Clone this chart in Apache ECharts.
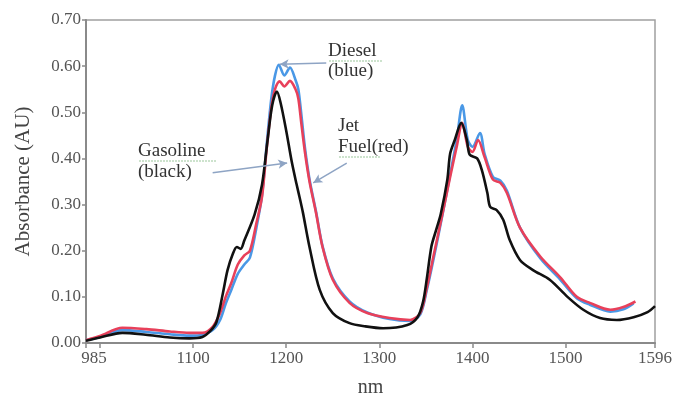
<!DOCTYPE html>
<html>
<head>
<meta charset="utf-8">
<script src="https://cdn.jsdelivr.net/npm/echarts@6/dist/echarts.min.js"></script>
<style>
  html, body { margin: 0; padding: 0; background: #fff; }
  #main { width: 678px; height: 406px; }
</style>
</head>
<body>
<div id="main"></div>
<script>
// gasoline (black)
var gasolineNm = [985, 1000, 1024, 1049, 1075, 1096, 1110, 1118, 1125, 1132, 1137, 1143, 1147, 1151, 1155, 1166, 1174, 1180, 1185, 1190, 1194, 1200, 1206, 1211, 1215, 1218, 1225, 1236, 1250, 1268, 1285, 1304, 1330, 1341, 1347, 1351, 1356, 1361, 1366, 1373, 1376, 1381, 1388, 1394, 1397, 1405, 1410, 1416, 1419, 1426, 1433, 1440, 1451, 1465, 1483, 1502, 1519, 1537, 1555, 1573, 1588, 1596];
var gasolineAbs = [0.005, 0.012, 0.022, 0.018, 0.012, 0.010, 0.013, 0.025, 0.045, 0.108, 0.158, 0.195, 0.208, 0.204, 0.222, 0.278, 0.343, 0.44, 0.516, 0.545, 0.52, 0.46, 0.392, 0.345, 0.31, 0.282, 0.208, 0.115, 0.065, 0.043, 0.036, 0.032, 0.039, 0.056, 0.09, 0.14, 0.21, 0.245, 0.28, 0.354, 0.41, 0.44, 0.477, 0.44, 0.408, 0.40, 0.375, 0.325, 0.295, 0.288, 0.267, 0.223, 0.18, 0.158, 0.137, 0.10, 0.072, 0.054, 0.05, 0.056, 0.067, 0.08];

// jet fuel (red)
var jetNm = [985, 1000, 1024, 1050, 1075, 1096, 1110, 1121, 1129, 1135, 1141, 1148, 1155, 1161, 1168, 1174, 1179, 1184, 1188, 1193, 1198, 1204, 1210, 1213, 1216, 1220, 1225, 1232, 1239, 1250, 1268, 1287, 1311, 1333, 1344, 1351, 1358, 1368, 1376, 1383, 1389, 1395, 1400, 1406, 1413, 1422, 1430, 1437, 1451, 1473, 1494, 1512, 1526, 1548, 1562, 1575];
var jetAbs = [0.006, 0.015, 0.033, 0.030, 0.025, 0.022, 0.022, 0.035, 0.065, 0.10, 0.13, 0.17, 0.19, 0.20, 0.26, 0.317, 0.42, 0.51, 0.55, 0.567, 0.556, 0.568, 0.55, 0.53, 0.48, 0.415, 0.35, 0.282, 0.208, 0.137, 0.087, 0.065, 0.054, 0.05, 0.065, 0.12, 0.187, 0.282, 0.36, 0.425, 0.477, 0.425, 0.414, 0.44, 0.403, 0.354, 0.347, 0.325, 0.25, 0.187, 0.143, 0.10, 0.087, 0.072, 0.078, 0.09];

// diesel (blue)
var dieselNm = [985, 1000, 1024, 1050, 1075, 1096, 1110, 1121, 1129, 1135, 1141, 1148, 1155, 1161, 1168, 1174, 1179, 1184, 1188, 1192, 1198, 1204, 1210, 1213, 1216, 1220, 1225, 1232, 1239, 1250, 1268, 1287, 1311, 1333, 1344, 1351, 1358, 1368, 1376, 1383, 1389, 1395, 1400, 1408, 1413, 1422, 1430, 1437, 1451, 1473, 1494, 1512, 1526, 1548, 1562, 1573];
var dieselAbs = [0.006, 0.013, 0.028, 0.024, 0.019, 0.016, 0.018, 0.028, 0.05, 0.085, 0.115, 0.15, 0.17, 0.185, 0.25, 0.32, 0.43, 0.53, 0.58, 0.603, 0.58, 0.597, 0.57, 0.55, 0.50, 0.425, 0.355, 0.285, 0.21, 0.14, 0.09, 0.066, 0.052, 0.048, 0.062, 0.115, 0.18, 0.28, 0.365, 0.44, 0.515, 0.44, 0.425, 0.455, 0.41, 0.36, 0.352, 0.33, 0.25, 0.183, 0.138, 0.097, 0.083, 0.068, 0.073, 0.086];

var xTicks = [985, 1000, 1100, 1200, 1300, 1400, 1500, 1596];
var xLabels = [985, 1100, 1200, 1300, 1400, 1500, 1596];

// arrows: [from, to] in data coords
var arrows = [
  [[1243, 0.607], [1193, 0.604]],   // Diesel
  [[1121, 0.369], [1201, 0.390]],   // Gasoline
  [[1265, 0.390], [1229, 0.347]]    // Jet fuel
];

function pairs(xs, ys) {
  return xs.map(function (x, i) { return [x, ys[i]]; });
}

var serif = '"Liberation Serif", "DejaVu Serif", serif';
var chart = echarts.init(document.getElementById('main'));

var option = {
  animation: false,
  backgroundColor: '#fff',
  grid: {
    left: 86, right: 23, top: 20, bottom: 63,
    show: true, borderColor: '#a0a0a0', borderWidth: 1.5,
    outerBoundsMode: 'none'
  },
  xAxis: {
    type: 'value',
    min: 985, max: 1596,
    name: 'nm',
    nameLocation: 'middle',
    nameGap: 35,
    nameTextStyle: { fontFamily: serif, fontSize: 20, color: '#444' },
    axisLine: { lineStyle: { color: '#8a8a8a', width: 2 } },
    axisTick: { show: true, length: 5, customValues: xTicks, lineStyle: { color: '#8a8a8a', width: 1.5 } },
    axisLabel: {
      customValues: xLabels,
      fontFamily: serif, fontSize: 17, color: '#555', margin: 7,
      formatter: function (v) {
        return v === 985 ? '{a|985}' : String(v);
      },
      rich: { a: { fontFamily: serif, fontSize: 17, color: '#555', padding: [0, 0, 0, 16] } }
    },
    splitLine: { show: false }
  },
  yAxis: {
    type: 'value',
    min: 0, max: 0.7, interval: 0.1,
    name: 'Absorbance (AU)',
    nameLocation: 'middle',
    nameGap: 52,
    nameTextStyle: { fontFamily: serif, fontSize: 21, color: '#444' },
    axisLine: { show: true, lineStyle: { color: '#8a8a8a', width: 2 } },
    axisTick: { show: true, length: 4, lineStyle: { color: '#8a8a8a', width: 1.5 } },
    axisLabel: {
      fontFamily: serif, fontSize: 17, color: '#555', margin: 5,
      formatter: function (v) { return v.toFixed(2); }
    },
    splitLine: { show: false }
  },
  series: [
    {
      name: 'Diesel', type: 'line', data: pairs(dieselNm, dieselAbs),
      smooth: 0.3, showSymbol: false,
      lineStyle: { color: '#4a98e6', width: 2.6 }
    },
    {
      name: 'Jet Fuel', type: 'line', data: pairs(jetNm, jetAbs),
      smooth: 0.3, showSymbol: false,
      lineStyle: { color: '#e8405a', width: 2.6 }
    },
    {
      name: 'Gasoline', type: 'line', data: pairs(gasolineNm, gasolineAbs),
      smooth: 0.3, showSymbol: false,
      lineStyle: { color: '#111', width: 2.6 },
      markLine: {
        silent: true,
        symbol: ['none', 'arrow'],
        symbolSize: [7, 9],
        label: { show: false },
        lineStyle: { color: '#8ea4c4', width: 1.5, type: 'solid' },
        data: arrows.map(function (a) {
          return [{ coord: a[0] }, { coord: a[1] }];
        })
      }
    }
  ],
  graphic: [
    { type: 'text', left: 328, top: 41, style: { text: 'Diesel\n(blue)', font: '19px ' + serif, fill: '#333', lineHeight: 20 } },
    { type: 'text', left: 138, top: 141, style: { text: 'Gasoline\n(black)', font: '19px ' + serif, fill: '#333', lineHeight: 21 } },
    { type: 'text', left: 338, top: 116, style: { text: 'Jet\nFuel(red)', font: '19px ' + serif, fill: '#333', lineHeight: 21 } },
    { type: 'line', shape: { x1: 329, y1: 61, x2: 382, y2: 61 }, style: { stroke: '#9cc89c', lineWidth: 1.2, lineDash: [2, 1] } },
    { type: 'line', shape: { x1: 139, y1: 161, x2: 216, y2: 161 }, style: { stroke: '#9cc89c', lineWidth: 1.2, lineDash: [2, 1] } },
    { type: 'line', shape: { x1: 339, y1: 157, x2: 381, y2: 157 }, style: { stroke: '#9cc89c', lineWidth: 1.2, lineDash: [2, 1] } }
  ]
};

chart.setOption(option);
</script>
</body>
</html>
